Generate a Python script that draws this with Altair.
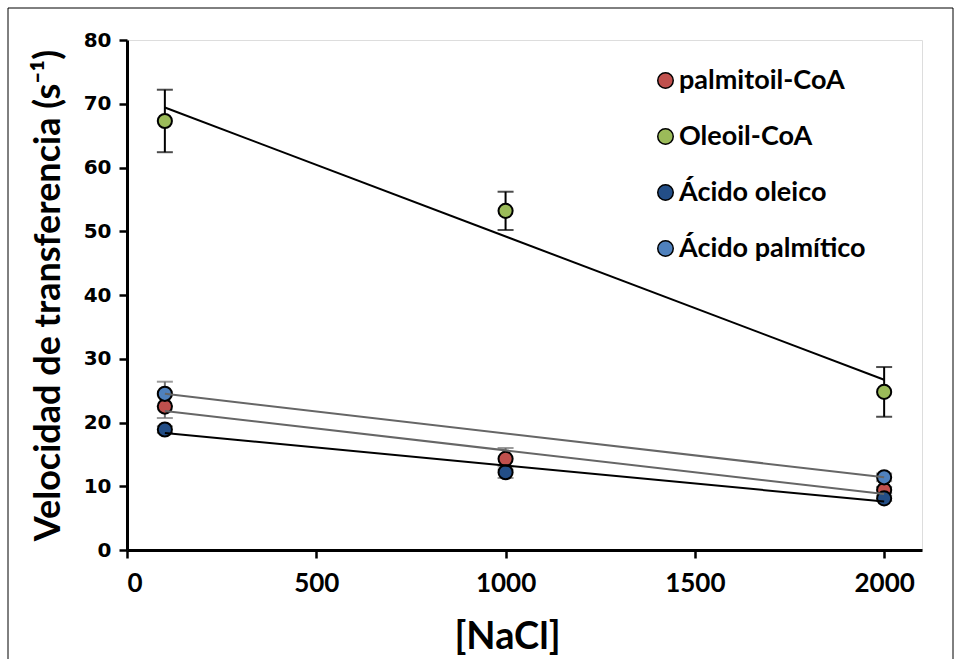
import altair as alt
import pandas as pd

# ---- data ----
series_names = ["palmitoil-CoA", "Oleoil-CoA", "Ácido oleico", "Ácido palmítico"]
series_colors = ["#C0504D", "#9BBB59", "#234E87", "#4F81BD"]

nacl_palmitoil = [100, 1000, 2000]
vel_palmitoil = [22.5, 14.3, 9.4]
err_palmitoil = [1.8, 1.7, 0.5]

nacl_oleoil = [100, 1000, 2000]
vel_oleoil = [67.3, 53.2, 24.8]
err_oleoil = [4.9, 3.0, 3.9]

nacl_oleico = [100, 1000, 2000]
vel_oleico = [18.9, 12.2, 8.1]
err_oleico = [0.5, 0.9, 0.4]

nacl_palmitico = [100, 2000]
vel_palmitico = [24.5, 11.4]
err_palmitico = [1.9, 0.6]

x_ticks = [0, 500, 1000, 1500, 2000]
y_ticks = [0, 10, 20, 30, 40, 50, 60, 70, 80]

rows = []
for name, xs, ys, es in [
    ("palmitoil-CoA", nacl_palmitoil, vel_palmitoil, err_palmitoil),
    ("Oleoil-CoA", nacl_oleoil, vel_oleoil, err_oleoil),
    ("Ácido oleico", nacl_oleico, vel_oleico, err_oleico),
    ("Ácido palmítico", nacl_palmitico, vel_palmitico, err_palmitico),
]:
    for x, y, e in zip(xs, ys, es):
        rows.append({"series": name, "nacl": x, "vel": y, "lo": y - e, "hi": y + e})
df = pd.DataFrame(rows)

LABEL = "Lato"
base = alt.Chart(df)

xenc = alt.X("nacl:Q", scale=alt.Scale(domain=[0, 2100], nice=False),
             axis=alt.Axis(values=x_ticks, format="d", title="[NaCl]", grid=False,
                           labelFont=LABEL, labelFontSize=26, labelFontWeight="bold",
                           labelPadding=12, labelColor="black",
                           tickSize=8, tickWidth=2.5, tickColor="black",
                           domainWidth=3, domainColor="black",
                           titleFont=LABEL, titleFontSize=38, titleFontWeight="bold",
                           titlePadding=22, titleX=380, titleColor="black"))
yenc = alt.Y("vel:Q", scale=alt.Scale(domain=[0, 80], nice=False),
             axis=alt.Axis(values=y_ticks, format="d", title="Velocidad de transferencia  (s⁻¹)",
                           grid=False,
                           labelFont="DejaVu Sans", labelFontSize=20, labelFontWeight="bold",
                           labelPadding=8, labelColor="black",
                           tickSize=8, tickWidth=2.5, tickColor="black",
                           domainWidth=3, domainColor="black",
                           titleFont=LABEL, titleFontSize=36, titleFontWeight="bold",
                           titlePadding=16, titleColor="black"))

err_color = alt.Color("ec:N", scale=None)
with_ec = base.transform_calculate(
    ec="(datum.series == 'Oleoil-CoA') ? 'black' : '#707070'"
)

err_rule = with_ec.mark_rule(strokeWidth=2).encode(
    x="nacl:Q", y="lo:Q", y2="hi:Q", color=err_color)
cap_lo = with_ec.mark_tick(orient="horizontal", size=16, thickness=2).encode(
    x="nacl:Q", y="lo:Q", color=err_color)
cap_hi = with_ec.mark_tick(orient="horizontal", size=16, thickness=2).encode(
    x="nacl:Q", y="hi:Q", color=err_color)

points = base.mark_point(filled=True, size=200, opacity=1, stroke="black",
                         strokeWidth=2, shape="circle").encode(
    x=xenc, y=yenc,
    color=alt.Color("series:N",
                    scale=alt.Scale(domain=series_names, range=series_colors),
                    legend=alt.Legend(title=None, orient="none", legendX=525, legendY=27,
                                      symbolType="circle", symbolSize=240,
                                      symbolStrokeColor="black", symbolStrokeWidth=1.5,
                                      symbolOpacity=1,
                                      labelFont=LABEL, labelFontSize=27, labelFontWeight="bold",
                                      labelColor="black", labelOffset=0, labelLimit=400,
                                      rowPadding=28)),
    order=alt.Order("series:N"),
)

lines = base.transform_regression(
    "nacl", "vel", groupby=["series"]
).transform_calculate(
    lc="(datum.series == 'Oleoil-CoA' || datum.series == 'Ácido oleico') ? 'black' : '#666666'"
).mark_line(strokeWidth=2).encode(
    x="nacl:Q", y="vel:Q", detail="series:N", color=alt.Color("lc:N", scale=None))

frame = alt.Chart(pd.DataFrame({"a": [0]})).mark_rect(
    fill=None, stroke="black", strokeWidth=1
).encode(x=alt.value(-119), x2=alt.value(826), y=alt.value(-32), y2=alt.value(700))

chart = alt.layer(err_rule, cap_lo, cap_hi, points, lines, frame).resolve_scale(
    color="independent"
).properties(
    width=795, height=510,
    autosize=alt.AutoSizeParams(type="none"),
    padding={"left": 127, "top": 40, "right": 33, "bottom": 109},
).configure_view(stroke=None).configure(background="white")

chart.save("out.html", embed_options={"renderer": "svg", "actions": False})
